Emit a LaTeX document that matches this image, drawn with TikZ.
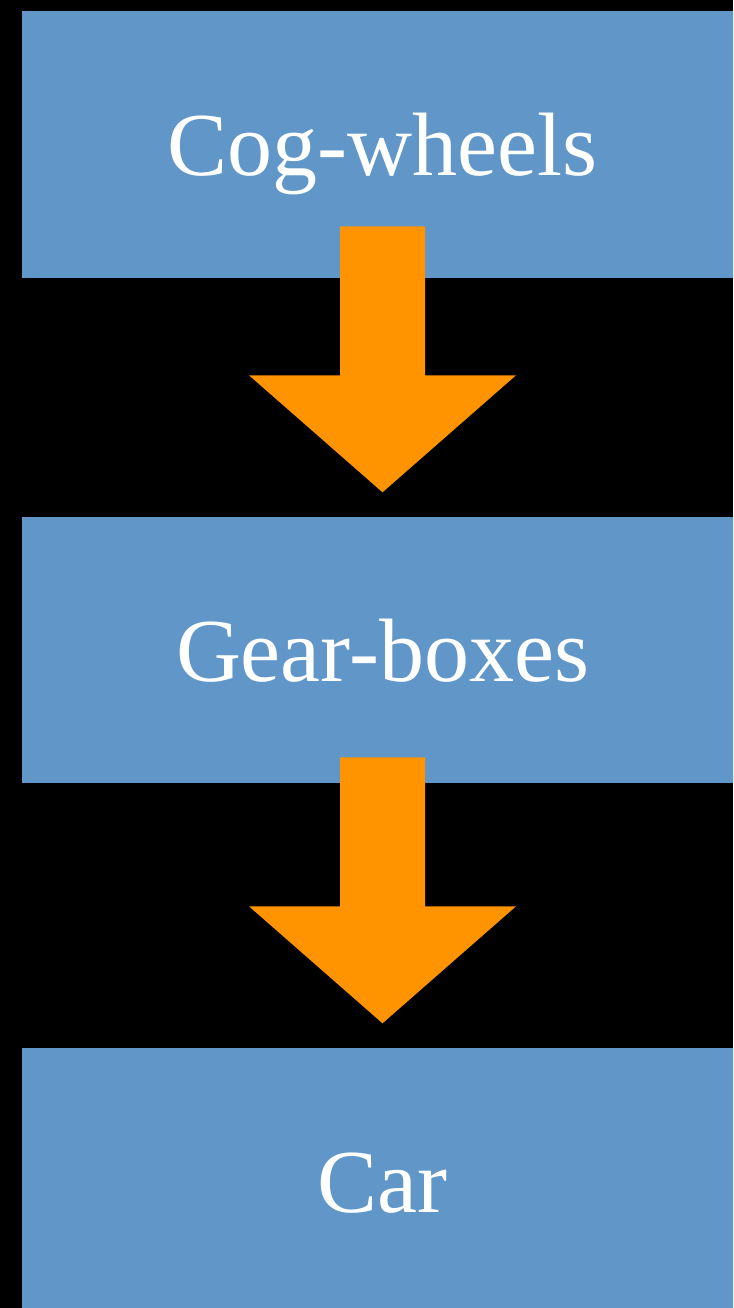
\documentclass[tikz,border=0pt]{standalone}
\usepackage{fontspec}
\setmainfont{Liberation Serif}
\usetikzlibrary{calc}
\definecolor{boxblue}{RGB}{97,150,200}
\definecolor{arroworange}{RGB}{255,147,0}
\begin{document}
\begin{tikzpicture}[x=1pt,y=-1pt,
  stage/.style={fill=boxblue, minimum width=722pt, minimum height=266pt, inner sep=0pt,
    text=white, font=\fontsize{90}{90}\selectfont, text height=63pt, text depth=0pt},
  flowarrow/.style={fill=arroworange}]
\fill[black] (0,0) rectangle (733,1308);
\useasboundingbox (0,0) rectangle (733,1308);
\clip (0,0) rectangle (733,1308);
\node[stage] (a) at (382.5,144.5) {Cog-wheels};
\node[stage] (b) at (382.5,650) {Gear-boxes};
\node[stage] (c) at (382.5,1181) {Car};
\foreach \s/\t in {a/b,b/c}{
  \coordinate (tip) at ($(\t.north)+(0,-24.5)$);
  \fill[flowarrow] ($(tip)+(-42.5,-266)$) -- ($(tip)+(42.5,-266)$) -- ($(tip)+(42.5,-117)$)
    -- ($(tip)+(133.5,-117)$) -- (tip) -- ($(tip)+(-133.5,-117)$) -- ($(tip)+(-42.5,-117)$) -- cycle;
}
\end{tikzpicture}
\end{document}
